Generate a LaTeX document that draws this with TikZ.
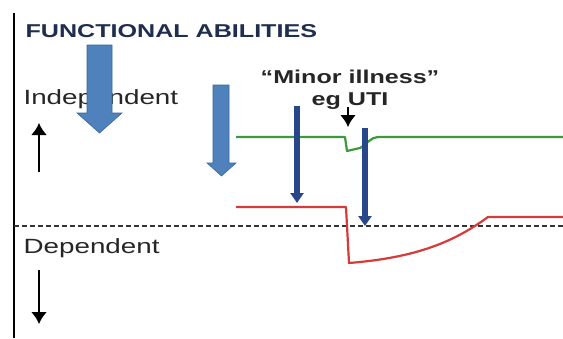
\documentclass[tikz,border=0pt]{standalone}
\usepackage{fontspec}
\setmainfont{Liberation Sans}
\usepackage{tikz}
\usetikzlibrary{
  arrows,%
  arrows.meta,%
  positioning
}
\definecolor{titlenavy}{HTML}{1F2D4F}
\definecolor{boxblue}{HTML}{4F81BD}
\definecolor{boxedge}{HTML}{3A679E}
\definecolor{pinnavy}{HTML}{27478A}
\definecolor{wellgreen}{HTML}{3C9A3C}
\definecolor{illred}{HTML}{D63A3A}
\tikzset{>={Latex[width=8pt,length=6pt]}}
\tikzset{
  widetext/.style={inner sep=0pt, xscale=1.35, transform shape, text=black!85},
  bigdown/.style={fill=boxblue, draw=boxedge, line width=0.3pt},
  pindown/.style={draw=pinnavy, line width=2.6pt, -{Triangle[width=6.5pt,length=5pt]}},
  levelline/.style={line width=1.1pt, line join=round}
}

\begin{document}
\begin{tikzpicture}[x=0.5pt, y=-0.5pt]
      \useasboundingbox (0, 0) rectangle (563, 338);
      \fill[white] (0, 0) rectangle (563, 338);
      % axis and reference level
      \draw[line width=1.1pt] (14, 13) -- (14, 338);
      \draw[line width=0.8pt, black!80, dash pattern=on 2.5pt off 1.5pt] (14, 226) -- (563, 226);
      % labels
      \node[widetext, anchor=base west, text=titlenavy, font=\fontsize{9.3}{11}\selectfont\bfseries] (title) at (25, 37) {FUNCTIONAL ABILITIES};
      \node[widetext, anchor=base west, font=\fontsize{10.3}{12}\selectfont] (indep) at (23, 104) {Independent};
      \node[widetext, anchor=base west, font=\fontsize{10.3}{12}\selectfont] (dep) at (23, 253) {Dependent};
      \node[widetext, anchor=base, font=\fontsize{9.3}{11}\selectfont\bfseries] (minor) at (350, 83) {``Minor illness''};
      \node[widetext, anchor=base, font=\fontsize{9.3}{11}\selectfont\bfseries] (uti) at (350, 105) {eg UTI};
      % direction arrows
      \coordinate (upfoot) at (39, 172);
      \coordinate (uptip) at (39, 123);
      \coordinate (downfoot) at (39, 270);
      \coordinate (downtip) at (39, 324);
      \coordinate (utifoot) at (348, 107);
      \coordinate (utitip) at (348, 127);
      \draw[->, line width=1.1pt] (upfoot) -- (uptip);
      \draw[->, line width=1.1pt] (downfoot) -- (downtip);
      \draw[->, line width=1.1pt] (utifoot) -- (utitip);
      % big blue arrows
      \filldraw[bigdown] (87, 45) -- (112, 45) -- (112, 113) -- (122, 113) -- (99.5, 133) -- (77, 113) -- (87, 113) -- cycle;
      \filldraw[bigdown] (213, 85) -- (229, 85) -- (229, 163) -- (236, 163) -- (221.5, 176) -- (207, 163) -- (213, 163) -- cycle;
      % levels
      \draw[levelline, wellgreen] (236, 137) -- (345, 137) -- (347, 151) -- (360, 148) .. controls (367, 144) and (371, 137) .. (378, 137) -- (563, 137);
      \draw[levelline, illred] (236, 207) -- (346, 207) -- (349, 263) .. controls (410, 258) and (450, 245) .. (488, 217) -- (563, 217);
      % narrow arrows
      \draw[pindown] (297, 106) -- (297, 203);
      \draw[pindown] (365, 128) -- (365, 226);
    \end{tikzpicture}
\end{document}
